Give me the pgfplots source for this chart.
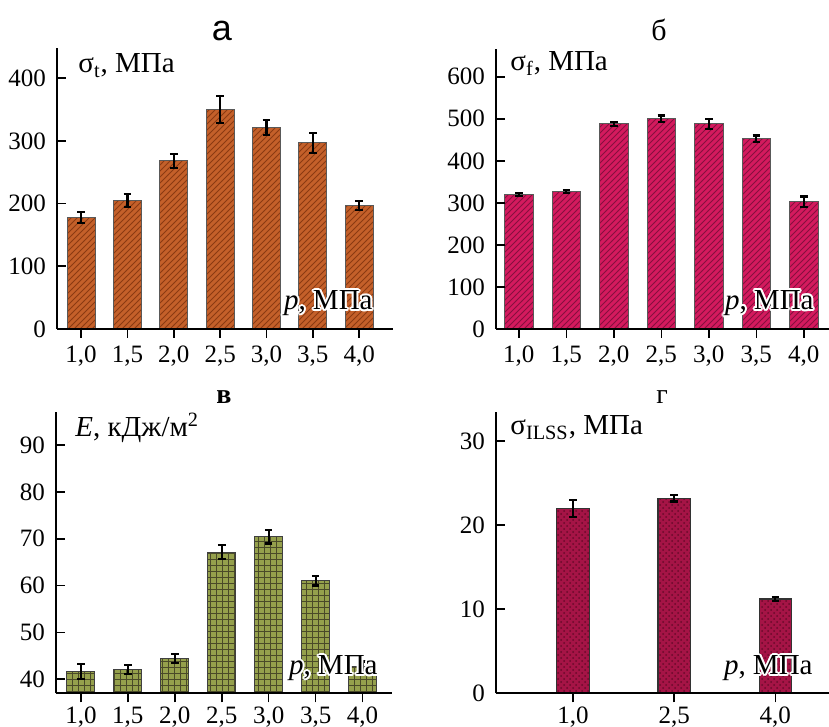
\documentclass[border=0pt]{standalone}
\usepackage{fontspec}
\setmainfont{Liberation Serif}
\newfontfamily\sansf{Liberation Sans}
\usepackage{pgfplots}
\pgfplotsset{compat=1.18}
\usepackage{pgfplotstable}
\usetikzlibrary{patterns}

\definecolor{cA}{HTML}{C4602A}
\definecolor{pA}{HTML}{8B3A12}
\definecolor{cB}{HTML}{D41A5E}
\definecolor{pB}{HTML}{86103E}
\definecolor{cC}{HTML}{95A04C}
\definecolor{pC}{HTML}{4A4A28}
\definecolor{cD}{HTML}{A51446}
\definecolor{pD}{HTML}{6A0A2A}

\newcommand\ticksize{\fontsize{12.5}{14}\selectfont}
\newcommand\labsize{\fontsize{14.5}{16}\selectfont}

\pgfplotstableread{
x y e
0 178 9
1 205 10
2 268 11
3 350 21
4 321 12
5 297 16
6 197 7
}\dataA
\pgfplotstableread{
x y e
0 320 3
1 327 3
2 488 5
3 500 8
4 488 12
5 452 8
6 303 12
}\dataB
\pgfplotstableread{
x y e
0 41.7 1.6
1 42.1 1.0
2 44.4 1.0
3 67.1 1.5
4 70.4 1.4
5 61.0 1.0
6 42.8 1.0
}\dataC
\pgfplotstableread{
x y e
0 22.0 1.0
1 23.2 0.4
2 11.2 0.2
}\dataD

\pgfplotsset{
  panel/.style={
    scale only axis, anchor=south west,
    axis lines*=left,
    axis line style={line width=1pt, black},
    tick align=inside, major tick length=4.5pt,
    tick style={line width=0.8pt, black},
    ymin=0, ybar, bar width=0.6, axis on top,
    xtick={0,...,6},
    xticklabels={{1,0},{1,5},{2,0},{2,5},{3,0},{3,5},{4,0}},
    tick label style={font=\ticksize},
    /pgf/number format/assume math mode=true,
    xticklabel style={yshift=-0.5pt},
    yticklabel style={xshift=-2pt},
  },
  lowpanel/.style={xticklabel style={yshift=1.5pt}},
  ebar/.style={error bars/.cd, y dir=both, y explicit,
    error bar style={line width=1.1pt, black},
    error mark options={rotate=90, mark size=1.9pt, line width=1.1pt, black}},
}

\newcommand\halo[3]{%
  \foreach \a in {0,30,...,330}{%
    \node[anchor=#2, inner sep=0pt, font=\labsize, text=white, shift={(\a:1.0pt)}] at #1 {#3};}%
  \node[anchor=#2, inner sep=0pt, font=\labsize] at #1 {#3};}

\begin{document}
\begin{tikzpicture}
\useasboundingbox (0,0) rectangle (414.5pt,363.5pt);

% panel a
\begin{axis}[panel, at={(28.5pt,199pt)}, width=168pt, height=140.5pt,
  xmin=-0.52, xmax=6.73, ymax=448, ytick={0,100,200,300,400}]
\addplot[fill=cA, draw=black!65, line width=0.5pt,
  postaction={pattern=north east lines, pattern color=pA}, ebar]
  table[x=x, y=y, y error=e]{\dataA};
\end{axis}

% panel b
\begin{axis}[panel, at={(248pt,199pt)}, width=166.5pt, height=140pt,
  xmin=-0.48, xmax=6.53, ymax=666, ytick={0,100,200,300,400,500,600}]
\addplot[fill=cB, draw=black!65, line width=0.5pt,
  postaction={pattern=north east lines, pattern color=pB}, ebar]
  table[x=x, y=y, y error=e]{\dataB};
\end{axis}

% panel c
\begin{axis}[panel, lowpanel, at={(28pt,16.85pt)}, width=167.85pt, height=140.5pt,
  xmin=-0.53, xmax=6.62, ymin=37, ymax=97, ytick={40,50,60,70,80,90}]
\addplot[fill=cC, draw=black!75, line width=0.5pt,
  postaction={pattern=grid, pattern color=pC}, ebar]
  table[x=x, y=y, y error=e]{\dataC};
\end{axis}

% panel d
\begin{axis}[panel, lowpanel, at={(248pt,16.85pt)}, width=166.5pt, height=140.5pt,
  xmin=-0.76, xmax=2.53, ymax=33.4, ytick={0,10,20,30}, bar width=0.32,
  xtick={0,1,2}, xticklabels={{1,0},{2,5},{4,0}}]
\addplot[fill=cD, draw=black!80, line width=0.6pt,
  postaction={pattern=crosshatch dots, pattern color=pD}, ebar]
  table[x=x, y=y, y error=e]{\dataD};
\end{axis}

% titles
\node[font=\sansf\fontsize{18}{19}\selectfont] at (111pt,348pt) {а};
\node[font=\fontsize{15}{16}\selectfont] at (329.5pt,348.5pt) {б};
\node[font=\bfseries\fontsize{14}{15}\selectfont] at (112pt,165pt) {в};
\node[font=\fontsize{14}{15}\selectfont] at (331pt,165pt) {г};

% y labels
\node[anchor=base west, inner sep=0pt, font=\labsize] at (39pt,327pt) {σ\textsubscript{t}, МПа};
\node[anchor=base west, inner sep=0pt, font=\labsize] at (255pt,328pt) {σ\textsubscript{f}, МПа};
\node[anchor=base west, inner sep=0pt, font=\labsize] at (37.5pt,145.2pt) {\textit{E}, кДж/м\textsuperscript{2}};
\node[anchor=base west, inner sep=0pt, font=\labsize] at (255pt,146pt) {σ\textsubscript{ILSS}, МПа};

% x labels with white halo
\halo{(186.5pt,208.5pt)}{base east}{\textit{p}, МПа}
\halo{(407pt,208.8pt)}{base east}{\textit{p}, МПа}
\halo{(189pt,26pt)}{base east}{\textit{p}, МПа}
\halo{(406.5pt,26pt)}{base east}{\textit{p}, МПа}
\end{tikzpicture}
\end{document}
